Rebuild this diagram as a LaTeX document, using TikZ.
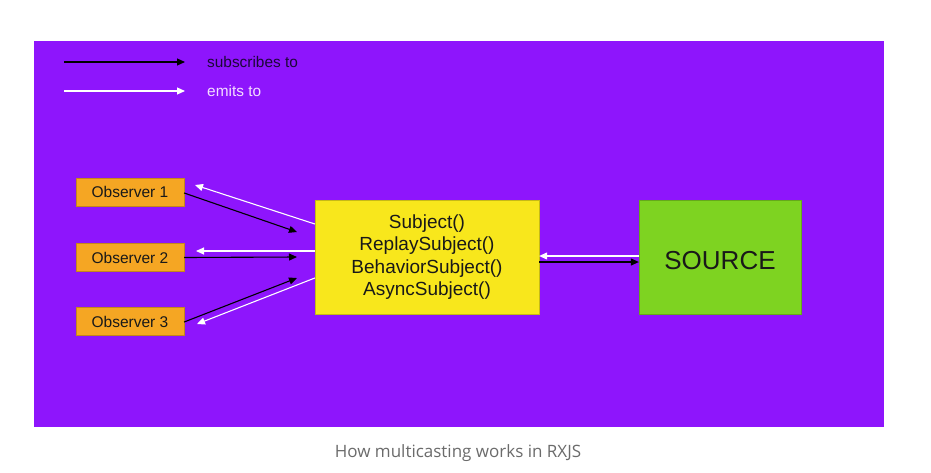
\documentclass[tikz,border=0pt]{standalone}
\usepackage{fontspec}
\setmainfont{Liberation Sans}
\newfontfamily\capfont{Open Sans}
\usetikzlibrary{arrows.meta,calc}
\definecolor{bgpurple}{HTML}{8E15FC}
\definecolor{obsorange}{HTML}{F5A623}
\definecolor{subjyellow}{HTML}{F8E71C}
\definecolor{srcgreen}{HTML}{7ED321}
\definecolor{darktext}{HTML}{1C0838}
\definecolor{lighttext}{HTML}{F4DDFF}
\definecolor{capgray}{HTML}{6B6B6B}
\tikzset{
  sub/.style={draw=black, line width=1.1pt, -{Triangle[length=8pt,width=7pt]}},
  emit/.style={draw=white, line width=1.1pt, -{Triangle[length=8pt,width=7pt]}},
  obsbox/.style={fill=obsorange, draw=obsorange!80!black, line width=0.3pt, minimum width=108pt, minimum height=28pt, inner sep=0pt, font=\fontsize{15.5}{18}\selectfont, text=black!90},
  legtext/.style={anchor=west, inner sep=0pt, font=\fontsize{15.4}{18}\selectfont}
}
\begin{document}
\begin{tikzpicture}[x=1pt,y=-1pt]
\useasboundingbox (0,0) rectangle (931,472);
\fill[white] (0,0) rectangle (931,472);
\fill[bgpurple] (34,41) rectangle (884,427);
% legend
\coordinate (l1a) at (64,62); \coordinate (l1b) at (185,62);
\coordinate (l2a) at (64,91); \coordinate (l2b) at (185,91);
\draw[sub] (l1a) -- (l1b);
\draw[emit] (l2a) -- (l2b);
\node[legtext, text=darktext] (lt1) at (207,62) {subscribes to};
\node[legtext, text=lighttext] (lt2) at (207,91) {emits to};
% nodes
\node[obsbox] (o1) at (130,192) {Observer 1};
\node[obsbox] (o2) at (130,257.5) {Observer 2};
\node[obsbox] (o3) at (130,321.5) {Observer 3};
\node[fill=subjyellow, draw=subjyellow!80!black, line width=0.3pt, minimum width=224pt, minimum height=114pt, inner sep=0pt, align=center, font=\fontsize{19}{22.5}\selectfont, text=black!90] (subj) at (427,257) {Subject()\\ReplaySubject()\\BehaviorSubject()\\AsyncSubject()};
\node[fill=srcgreen, draw=srcgreen!80!black, line width=0.3pt, minimum width=162pt, minimum height=114pt, inner sep=0pt, text=black!90] (src) at (720,257) {};
\node[font=\fontsize{26}{30}\selectfont, text=black!90, inner sep=0pt] (srct) at ($(src.center)+(0,4)$) {SOURCE};
% connector end points
\coordinate (a1) at (297,232);
\coordinate (w1s) at ($(subj.west)+(0,-33)$);
\coordinate (w1e) at (195,185);
\coordinate (w2s) at ($(subj.west)+(0,-6)$);
\coordinate (w2e) at (196,251);
\coordinate (a2) at (297,257);
\coordinate (a3) at (297,278);
\coordinate (w3s) at ($(subj.west)+(0,21)$);
\coordinate (w3e) at (197,324);
\draw[sub] ($(o1.east)+(0,1)$) -- (a1);
\draw[emit] (w1s) -- (w1e);
\draw[emit] (w2s) -- (w2e);
\draw[sub] (o2.east) -- (a2);
\draw[sub] ($(o3.east)+(0,0.5)$) -- (a3);
\draw[emit] (w3s) -- (w3e);
\draw[emit] ($(src.west)+(0,-1)$) -- ($(subj.east)+(0,-1)$);
\draw[sub] ($(subj.east)+(0,5)$) -- ($(src.west)+(0,5)$);
% caption
\node[text=capgray, font=\capfont\fontsize{17}{20}\selectfont, inner sep=0pt] (cap) at (458,453) {How multicasting works in RXJS};
\end{tikzpicture}
\end{document}
